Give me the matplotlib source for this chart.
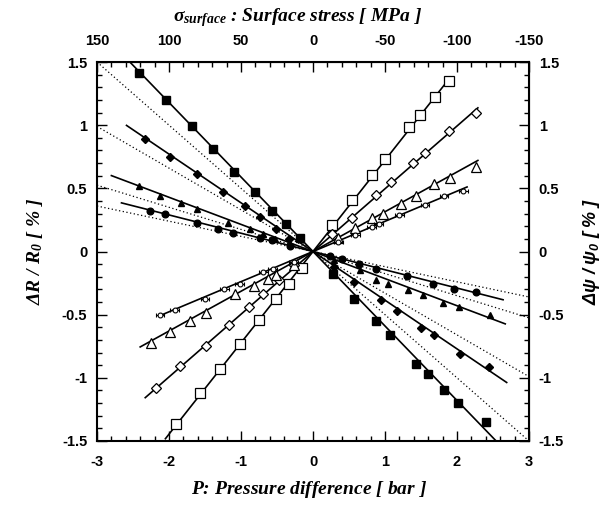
import numpy as np
import matplotlib
matplotlib.use("Agg")
import matplotlib.pyplot as plt
from matplotlib.ticker import MultipleLocator, FuncFormatter

plt.rcParams['mathtext.fontset'] = 'custom'
plt.rcParams['mathtext.rm'] = 'Liberation Serif:bold:italic'
plt.rcParams['mathtext.it'] = 'Liberation Serif:bold:italic'
plt.rcParams['mathtext.bf'] = 'Liberation Serif:bold:italic'
plt.rcParams['mathtext.sf'] = 'Liberation Sans:bold:italic'
plt.rcParams['axes.unicode_minus'] = False

# --- filled symbols: dR/R0 [%] vs P [bar] ---
sq_P = [-2.41, -2.04, -1.68, -1.39, -1.10, -0.81, -0.565, -0.375, -0.18,
        0.28, 0.575, 0.87, 1.07, 1.43, 1.60, 1.82, 2.02, 2.40]
sq_R = [1.41, 1.20, 0.99, 0.81, 0.63, 0.47, 0.32, 0.214, 0.103,
        -0.18, -0.376, -0.553, -0.66, -0.889, -0.97, -1.095, -1.196, -1.347]
di_P = [-2.34, -1.98, -1.61, -1.25, -0.95, -0.73, -0.52, -0.33,
        0.29, 0.575, 0.94, 1.17, 1.50, 1.68, 2.04, 2.44]
di_R = [0.894, 0.75, 0.61, 0.47, 0.36, 0.27, 0.175, 0.095,
        -0.12, -0.24, -0.386, -0.47, -0.606, -0.664, -0.81, -0.915]
tr_P = [-2.41, -2.125, -1.83, -1.61, -1.18, -0.875, -0.69, -0.53, -0.32,
        0.29, 0.65, 0.875, 1.04, 1.315, 1.53, 1.80, 2.03, 2.46]
tr_R = [0.518, 0.439, 0.386, 0.339, 0.228, 0.175, 0.135, 0.10, 0.056,
        -0.07, -0.15, -0.222, -0.254, -0.307, -0.344, -0.407, -0.44, -0.505]
ci_P = [-2.27, -2.05, -1.615, -1.315, -1.11, -0.74, -0.57, -0.32,
        0.23, 0.40, 0.645, 0.87, 1.30, 1.67, 1.96, 2.26]
ci_R = [0.32, 0.294, 0.222, 0.18, 0.148, 0.108, 0.09, 0.042,
        -0.037, -0.063, -0.098, -0.138, -0.19, -0.257, -0.30, -0.323]
filled_span = [(-2.6, 2.6), (-2.59, 2.69), (-2.8, 2.67), (-2.66, 2.64)]

# --- open symbols: dpsi/psi0 [%] vs P [bar] ---
osq_P = [-1.90, -1.57, -1.29, -1.01, -0.745, -0.52, -0.34, -0.157,
         0.27, 0.545, 0.815, 1.0, 1.33, 1.49, 1.69, 1.89]
osq_Y = [-1.365, -1.12, -0.929, -0.733, -0.54, -0.375, -0.254, -0.13,
         0.209, 0.407, 0.603, 0.73, 0.986, 1.08, 1.225, 1.347]
odi_P = [-2.18, -1.85, -1.49, -1.16, -0.89, -0.69, -0.47, -0.27,
         0.26, 0.545, 0.87, 1.08, 1.385, 1.555, 1.89, 2.27]
odi_Y = [-1.08, -0.91, -0.75, -0.585, -0.44, -0.34, -0.228, -0.11,
         0.14, 0.267, 0.444, 0.55, 0.70, 0.783, 0.95, 1.095]
otr_P = [-2.25, -1.99, -1.71, -1.49, -1.09, -0.82, -0.63, -0.52, -0.27,
         0.35, 0.59, 0.815, 0.97, 1.22, 1.43, 1.685, 1.90, 2.27]
otr_Y = [-0.725, -0.635, -0.553, -0.487, -0.34, -0.275, -0.217, -0.183, -0.103,
         0.11, 0.188, 0.262, 0.30, 0.378, 0.44, 0.532, 0.585, 0.67]
oci_P = [-2.125, -1.92, -1.5, -1.23, -1.02, -0.69, -0.56, -0.27,
         0.35, 0.59, 0.815, 0.91, 1.20, 1.555, 1.82, 2.09]
oci_Y = [-0.505, -0.46, -0.376, -0.30, -0.256, -0.164, -0.135, -0.085,
         0.074, 0.13, 0.193, 0.214, 0.288, 0.367, 0.439, 0.479]

# dotted reference lines (slope in % per bar)
dotted_slopes = [-0.5, -0.33, -0.175, -0.12]


def origin_slope(p, y):
    p = np.asarray(p)
    y = np.asarray(y)
    return np.sum(p * y) / np.sum(p * p)


fig = plt.figure(figsize=(6.11, 5.08), dpi=100)
ax = fig.add_axes([97 / 611, 1 - 441 / 508, 432 / 611, 379 / 508])
ax.set_xlim(-3, 3)
ax.set_ylim(-1.5, 1.5)

xx = np.array([-3, 3])
for s in dotted_slopes:
    ax.plot(xx, s * xx, color='black', lw=0.9, ls=(0, (1, 2.0)), zorder=1)

filled = [(sq_P, sq_R, 's', 6), (di_P, di_R, 'D', 4.2),
          (tr_P, tr_R, '^', 5), (ci_P, ci_R, 'o', 4.8)]
for (p, r, m, ms), span in zip(filled, filled_span):
    k = origin_slope(p, r)
    xs = np.array(span)
    ax.plot(xs, k * xs, color='black', lw=1.2, zorder=2)
    ax.plot(p, r, ls='none', marker=m, ms=ms, color='black', zorder=3)

opens = [(osq_P, osq_Y, 's', 7), (odi_P, odi_Y, 'D', 5.5), (otr_P, otr_Y, '^', 7)]
for p, y, m, ms in opens:
    k = origin_slope(p, y)
    xs = np.array([min(p) - 0.15, max(p) + 0.02])
    ax.plot(xs, k * xs, color='black', lw=1.2, zorder=2)
    ax.plot(p, y, ls='none', marker=m, ms=ms, mfc='white', mec='black', mew=0.9, zorder=3)

k = origin_slope(oci_P, oci_Y)
xs = np.array([min(oci_P), max(oci_P) + 0.05])
ax.plot(xs, k * xs, color='black', lw=1.2, zorder=2)
ax.errorbar(oci_P, oci_Y, xerr=0.06, fmt='o', ms=3.5, mfc='white', mec='black',
            mew=0.8, ecolor='black', elinewidth=0.8, capsize=1.5, zorder=3)

tick_font = dict(family='Liberation Sans', weight='bold', size=10.5)
fmt = FuncFormatter(lambda v, pos: '%g' % v)

ax.xaxis.set_major_locator(MultipleLocator(1))
ax.xaxis.set_minor_locator(MultipleLocator(0.2))
ax.yaxis.set_major_locator(MultipleLocator(0.5))
ax.yaxis.set_minor_locator(MultipleLocator(0.1))
ax.xaxis.set_major_formatter(fmt)
ax.yaxis.set_major_formatter(fmt)
ax.tick_params(which='both', direction='in', width=1.0)
ax.tick_params(which='major', length=7)
ax.tick_params(which='minor', length=3.5)
ax.tick_params(axis='x', pad=10)
ax.tick_params(axis='y', pad=7)
for sp in ax.spines.values():
    sp.set_linewidth(1.5)

top = ax.secondary_xaxis('top', functions=(lambda p: -50 * p, lambda s: -s / 50))
top.xaxis.set_major_locator(MultipleLocator(50))
top.xaxis.set_minor_locator(MultipleLocator(10))
top.xaxis.set_major_formatter(fmt)
top.tick_params(which='both', direction='in', width=1.0)
top.tick_params(which='major', length=7, pad=10)
top.tick_params(which='minor', length=3.5)

right = ax.secondary_yaxis('right')
right.yaxis.set_major_locator(MultipleLocator(0.5))
right.yaxis.set_minor_locator(MultipleLocator(0.1))
right.yaxis.set_major_formatter(fmt)
right.tick_params(which='both', direction='in', width=1.0)
right.tick_params(which='major', length=7, pad=7)
right.tick_params(which='minor', length=3.5)

for a in (ax.get_xticklabels() + ax.get_yticklabels()
          + top.get_xticklabels() + right.get_yticklabels()):
    a.set_fontproperties(matplotlib.font_manager.FontProperties(**tick_font))

ax.set_xlabel(r'$P$: Pressure difference [ bar ]', family='Liberation Serif',
              weight='bold', style='italic', size=14, labelpad=7)
ax.xaxis.label.set_x(0.49)
ax.set_ylabel(r'$\Delta R\ /\ R_0\ [\ \%\ ]$', size=14, labelpad=12)
top.set_xlabel(r'$\sigma_{surface}$ : Surface stress [ MPa ]', family='Liberation Serif',
               weight='bold', style='italic', size=14, labelpad=9)
top.xaxis.label.set_x(0.465)
right.set_ylabel(r'$\mathsf{\Delta\psi\ /\ \psi_0\ [\ \%\ ]}$', size=13, labelpad=12)

fig.savefig('out.png', dpi=100)
